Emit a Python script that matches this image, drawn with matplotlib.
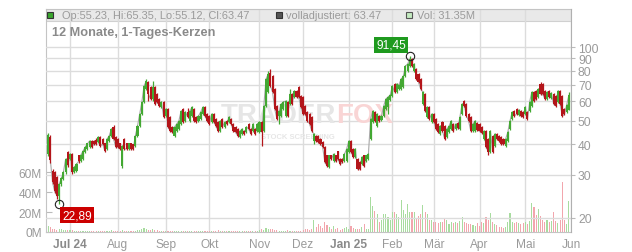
import matplotlib
matplotlib.use("Agg")
import matplotlib.pyplot as plt
from matplotlib.patches import Rectangle
from matplotlib.ticker import FixedLocator, FixedFormatter, NullLocator

plt.rcParams['font.family'] = ['Liberation Sans', 'DejaVu Sans']

# ---------------- data (daily candles, Jun 2024 - May 2025) ----------------
opens = [
    36.5, 42.9, 31.1, 30.8, 29.4, 24.6, 27.5, 29.0, 30.8, 36.9,
    34.8, 36.5, 30.8, 31.1, 35.9, 34.1, 34.8, 37.3, 38.3, 39.0, 41.3, 41.3, 41.7, 40.9, 42.9, 42.1, 40.2, 38.3, 41.3, 43.3, 47.1, 42.9,
    42.1, 40.2, 32.6, 42.1, 40.2, 38.3, 40.2, 39.8, 39.4, 43.3, 47.5, 53.2, 59.6, 67.3, 71.9, 68.6, 61.3, 68.6, 64.2, 61.3, 56.8, 59.6,
    52.2, 55.8, 51.8, 47.1, 43.3, 45.3, 46.2, 48.5, 55.8, 49.9, 54.2, 49.9, 52.2, 55.8, 51.8, 49.9, 50.8, 53.2, 56.8, 53.2,
    52.2, 49.4, 53.2, 50.8, 49.4, 45.3, 50.8, 47.1, 49.9, 49.4, 50.8, 48.5, 47.1, 46.2, 42.9, 44.1, 45.3, 44.9, 48.5, 46.2, 45.3, 46.2, 45.3,
    44.9, 49.4, 45.3, 57.4, 65.4, 78.5, 75.8, 67.3, 57.4, 52.2, 52.2, 55.8, 52.2, 59.6, 58.5, 64.2, 62.4, 66.1, 68.6, 63.0,
    62.4, 57.4, 54.2, 53.2, 51.8, 41.3, 43.3, 43.3, 42.1, 40.9, 39.0, 35.9, 32.3, 35.9, 34.1, 35.9, 37.3, 34.8, 34.8, 34.1, 34.1,
    37.3, 41.3, 38.3, 35.5, 34.8, 33.8, 33.2, 35.9, 34.1, 34.8, 42.1, 49.4, 54.2, 47.5, 52.2, 50.3, 52.2, 55.8, 56.8, 60.7,
    63.0, 70.6, 65.4, 67.3, 67.3, 68.6, 76.1, 79.8, 83.6, 89.3, 79.8, 81.3, 77.6, 74.0, 58.5, 64.2, 51.8, 56.8, 49.4,
    53.2, 50.8, 48.5, 44.1, 49.4, 47.5, 42.9, 44.9, 46.2, 48.5, 46.2, 48.9, 46.2, 53.2, 60.1, 58.5, 53.2, 51.8, 45.3, 45.3, 48.9,
    48.5, 47.1, 42.1, 45.3, 42.1, 37.3, 43.3, 39.4, 44.1, 43.3, 42.9, 42.1, 39.4, 41.3, 46.2, 50.8, 54.7, 55.8, 52.7, 54.7, 54.2,
    53.2, 54.2, 54.7, 57.4, 65.4, 66.1, 62.4, 70.6, 70.6, 66.1, 61.3, 66.1, 62.0, 64.2, 63.0, 59.6, 66.1, 63.0, 55.8, 54.2, 55.23,
]
highs = [
    44.5, 43.7, 31.6, 31.2, 29.8, 27.9, 29.5, 31.2, 35.2, 37.4,
    36.9, 37.0, 32.7, 33.6, 36.3, 36.6, 38.0, 39.4, 40.6, 41.7, 41.7, 41.7, 42.6, 43.3, 43.3, 42.5, 40.6, 42.5, 43.7, 46.7, 47.8, 43.3,
    42.5, 40.6, 39.8, 42.5, 40.6, 40.6, 40.6, 40.2, 43.7, 48.0, 53.8, 60.2, 70.0, 74.0, 72.6, 69.3, 72.6, 69.3, 65.0, 62.0, 60.2, 60.1,
    56.4, 56.4, 52.3, 47.6, 47.6, 49.0, 50.4, 55.3, 56.4, 54.8, 56.5, 55.3, 57.4, 56.4, 52.3, 52.7, 54.8, 57.4, 57.4, 53.7,
    52.7, 53.7, 53.7, 51.3, 49.9, 50.4, 51.3, 49.9, 50.4, 52.3, 51.3, 49.0, 47.6, 46.7, 45.8, 46.7, 45.8, 47.6, 49.0, 46.7, 49.0, 46.7, 49.0,
    49.9, 49.9, 58.0, 74.8, 79.8, 81.3, 76.5, 68.0, 58.0, 55.3, 59.1, 60.2, 60.7, 60.2, 67.3, 64.8, 66.8, 66.8, 69.3, 63.6,
    63.0, 58.0, 54.8, 53.7, 52.3, 44.5, 43.7, 43.7, 42.5, 41.3, 39.4, 36.3, 36.3, 36.3, 36.9, 36.3, 37.7, 35.2, 35.2, 36.9, 38.7,
    41.7, 41.7, 38.7, 38.7, 35.2, 34.2, 35.9, 36.3, 36.3, 36.9, 51.3, 55.3, 54.8, 53.7, 52.7, 52.7, 58.0, 62.0, 63.0, 64.2,
    69.9, 71.3, 71.3, 70.6, 74.8, 76.5, 84.4, 86.0, 91.45, 90.2, 86.0, 82.1, 78.3, 74.8, 66.0, 64.8, 57.4, 57.4, 53.7,
    53.7, 51.3, 49.0, 48.0, 49.9, 48.0, 46.7, 48.0, 50.4, 49.0, 49.0, 49.4, 52.3, 59.1, 60.7, 59.1, 53.7, 52.3, 49.0, 50.4, 49.4,
    49.0, 47.6, 45.8, 45.8, 42.5, 45.8, 43.7, 44.5, 44.5, 43.7, 43.3, 42.5, 42.5, 45.3, 50.4, 54.8, 55.3, 56.4, 55.8, 55.3, 54.8,
    57.4, 54.8, 60.2, 66.0, 66.0, 66.8, 68.0, 72.0, 71.3, 66.8, 66.0, 66.8, 65.4, 64.8, 63.6, 66.8, 66.8, 63.6, 56.4, 58.5, 65.35,
]
lows = [
    36.0, 33.5, 27.6, 25.3, 23.9, 22.89, 27.1, 28.6, 30.4, 32.4,
    34.4, 30.4, 30.5, 30.8, 33.7, 33.8, 34.5, 37.0, 38.0, 38.7, 38.7, 39.8, 39.8, 40.5, 39.0, 39.8, 37.2, 38.0, 41.0, 43.0, 41.7, 38.6,
    38.6, 37.9, 32.0, 37.9, 37.9, 37.9, 37.9, 37.9, 39.0, 43.0, 47.0, 52.7, 59.0, 66.5, 60.1, 60.8, 60.1, 58.0, 59.0, 57.0, 56.3, 51.3,
    51.7, 46.6, 44.9, 44.5, 42.9, 44.9, 45.8, 48.0, 48.9, 49.4, 51.3, 49.4, 51.7, 49.4, 48.9, 49.4, 50.3, 52.7, 51.7, 49.4,
    48.0, 48.9, 48.9, 47.0, 44.9, 44.9, 46.6, 46.6, 48.0, 48.9, 48.0, 44.9, 44.5, 42.9, 42.5, 43.7, 43.7, 44.5, 45.9, 43.7, 44.9, 43.7, 44.9,
    44.5, 39.4, 44.9, 57.0, 64.8, 68.6, 64.8, 55.3, 50.3, 48.5, 51.7, 55.3, 51.7, 51.7, 58.0, 58.0, 61.8, 61.8, 61.8, 56.3,
    52.7, 52.7, 49.4, 48.0, 44.9, 40.2, 40.9, 40.5, 39.8, 38.6, 33.5, 32.3, 32.0, 34.4, 33.8, 33.8, 34.4, 32.9, 33.5, 33.8, 33.8,
    36.9, 36.9, 35.1, 35.1, 31.4, 31.4, 32.9, 32.3, 33.8, 34.4, 41.7, 48.9, 49.4, 47.0, 49.4, 49.9, 51.7, 55.3, 53.2, 60.2,
    62.4, 64.8, 64.8, 66.7, 66.7, 68.0, 75.4, 79.0, 82.8, 82.8, 79.0, 73.3, 71.2, 66.7, 57.9, 54.2, 51.3, 50.3, 48.9,
    48.9, 45.8, 44.5, 43.7, 44.9, 41.7, 42.5, 44.5, 45.8, 44.9, 45.8, 46.2, 45.8, 52.7, 56.8, 51.7, 49.4, 44.9, 44.9, 44.9, 45.3,
    44.9, 44.1, 41.7, 38.6, 36.2, 36.9, 36.9, 39.0, 41.7, 40.9, 39.8, 39.8, 39.0, 40.9, 45.8, 50.3, 51.7, 52.7, 52.2, 51.7, 51.3,
    52.7, 50.3, 54.2, 56.8, 59.6, 60.8, 61.8, 63.6, 63.6, 60.8, 60.8, 61.8, 61.5, 58.0, 56.8, 59.0, 58.0, 51.7, 52.7, 53.7, 55.12,
]
closes = [
    43.7, 34.5, 28.0, 25.7, 24.6, 27.5, 29.0, 30.8, 34.8, 32.9,
    36.5, 30.8, 32.3, 33.2, 34.1, 36.2, 37.6, 39.0, 40.2, 41.3, 39.0, 40.2, 40.2, 42.9, 39.4, 40.2, 37.6, 42.1, 43.3, 46.2, 42.1, 39.0,
    39.0, 38.3, 39.4, 38.3, 38.3, 40.2, 38.3, 38.3, 43.3, 47.5, 53.2, 59.6, 69.3, 72.6, 64.2, 61.3, 68.6, 58.5, 59.6, 57.4, 59.6, 51.8,
    55.8, 47.1, 45.3, 44.9, 47.1, 48.5, 49.9, 54.7, 49.4, 54.2, 51.8, 54.7, 56.8, 49.9, 49.4, 52.2, 54.2, 56.8, 52.2, 49.9,
    48.5, 53.2, 49.4, 47.5, 45.3, 49.9, 47.1, 49.4, 48.5, 51.8, 48.5, 45.3, 44.9, 43.3, 45.3, 46.2, 44.1, 47.1, 46.3, 44.1, 48.5, 44.1, 48.5,
    49.4, 44.9, 57.4, 74.0, 77.6, 69.3, 65.4, 55.8, 50.8, 54.7, 58.5, 59.6, 60.1, 52.2, 64.2, 58.5, 66.1, 62.4, 62.4, 56.8,
    53.2, 53.2, 49.9, 48.5, 45.3, 44.1, 41.3, 40.9, 40.2, 39.0, 33.8, 32.6, 35.9, 34.8, 36.5, 34.1, 34.8, 33.2, 33.8, 36.5, 38.3,
    41.3, 37.3, 35.5, 38.3, 31.7, 31.7, 35.5, 32.6, 35.9, 36.5, 50.8, 54.7, 49.9, 53.2, 49.9, 52.2, 57.4, 61.3, 62.4, 63.6,
    69.3, 65.4, 70.6, 69.9, 74.0, 75.8, 83.6, 85.2, 89.3, 83.6, 85.2, 74.0, 71.9, 67.3, 65.4, 54.7, 56.8, 50.8, 53.2,
    49.4, 46.2, 44.9, 47.5, 45.3, 42.1, 46.2, 47.5, 49.9, 45.3, 48.5, 46.6, 51.8, 58.5, 57.4, 52.2, 49.9, 45.3, 48.5, 49.9, 45.7,
    45.3, 44.5, 45.3, 39.0, 37.3, 45.3, 37.3, 44.1, 42.1, 41.3, 40.2, 40.2, 42.1, 44.9, 49.9, 54.2, 52.2, 53.2, 55.3, 52.2, 51.8,
    56.8, 50.8, 59.6, 65.4, 60.1, 61.3, 67.3, 64.2, 64.2, 61.3, 65.4, 62.4, 64.8, 58.5, 57.4, 66.1, 58.5, 52.2, 53.2, 57.9, 63.47,
]
volumes_m = [
    6, 5, 3.5, 3, 2.5, 3, 3, 2, 2, 2,
    2, 2, 1.5, 1.5, 1, 1, 1.5, 1.5, 1, 1, 1, 1, 1.5, 1, 1, 1, 1.5, 1, 1, 2, 1.5, 1,
    1, 1, 2, 1, 1, 1, 1, 1, 1.5, 2, 2.5, 3, 4, 3, 2.5, 2, 3, 2, 2, 1.5, 1.5, 1,
    1.5, 1.5, 1, 1, 1, 1, 1.5, 1, 1, 1, 1, 1, 1.5, 1, 1, 1, 1, 1, 1, 1,
    1, 1, 1, 1.5, 2, 1, 1, 1, 1, 1, 1, 1, 1, 1.5, 1, 1, 1, 1, 1, 1, 1, 1.5, 1,
    2, 3, 2.5, 4, 3.5, 3, 3, 2.5, 2, 1.5, 1.5, 1.5, 1.5, 2, 1.5, 1.5, 1.5, 1.5, 1, 1.5,
    2, 3, 3, 2.5, 3, 12, 5, 8, 6, 4, 10, 7, 5, 3, 6, 3, 4, 2.5, 3, 4, 5,
    3, 6, 4, 3, 3, 3, 5, 8, 3, 3, 35, 26, 21, 18, 10, 12, 18, 18, 15, 12,
    20, 20, 18, 15, 32, 22, 18, 28, 20, 20, 20, 14, 16, 18, 27, 20, 18, 12, 12,
    10, 10, 9, 10, 10, 13, 12, 8, 10, 9, 10, 9, 11, 15, 10, 9, 8, 8, 7, 6, 9,
    6, 10, 9, 15, 12, 19, 10, 8, 7, 5, 5, 4, 5, 10, 19, 10, 9, 10, 9, 8, 9,
    10, 8, 11, 29, 25, 17, 23, 16, 12, 10, 12, 10, 11, 20, 11, 9, 12, 50, 12, 8, 31.35,
]
month_labels = ["Jul 24", "Aug", "Sep", "Okt", "Nov", "Dez", "Jan 25", "Feb", "Mär", "Apr", "Mai", "Jun"]
month_starts = [10, 32, 54, 74, 97, 117, 138, 158, 177, 198, 219, 240]
price_ticks = [20, 30, 40, 50, 60, 70, 80, 90, 100]
vol_ticks = [0, 20, 40, 60]
hi_label, lo_label = "91,45", "22,89"
header_ohlc = "Op:55.23, Hi:65.35, Lo:55.12, Cl:63.47"
header_adj = "volladjustiert: 63.47"
header_vol = "Vol: 31.35M"
title = "12 Monate, 1-Tages-Kerzen"

# ---------------- layout ----------------
W, H = 632, 253
L, R, T, B = 46, 571, 10, 233
fig = plt.figure(figsize=(W / 100, H / 100), dpi=100)
fig.patch.set_facecolor("white")

def fx(x):
    return x / W

def fy(y):
    return 1 - y / H

axv = fig.add_axes([fx(L), fy(B), (R - L) / W, (B - T) / H])
axp = axv.twinx()

n = min(len(opens), len(highs), len(lows), len(closes), len(volumes_m))
idx = list(range(n))
GREEN, RED = "#43a832", "#b3151a"
VGREEN, VPINK = "#a8dc9f", "#f2a6ad"
GRID = "#dcdcdc"
TXT = "#9a9a9a"

# header bar
axv.add_patch(Rectangle((0, 1 - 12 / (B - T)), 1, 12 / (B - T), transform=axv.transAxes,
                        facecolor="#e9e9e9", edgecolor="#d0d0d0", lw=0.8, zorder=0.3))

# volume
axv.set_ylim(0, B - T)
axv.set_xlim(-1.0, 240.0)
up = [closes[i] >= opens[i] for i in idx]
axv.bar(idx, volumes_m[:n], width=0.5, color=[VGREEN if u else VPINK for u in up],
        linewidth=0, zorder=1)
axv.set_xticks(month_starts)
axv.set_xticklabels(month_labels)
axv.xaxis.grid(True, color=GRID, lw=1.0)
axv.set_axisbelow(True)
axv.tick_params(axis="x", length=0, pad=4, labelsize=8.6, labelcolor=TXT)
for lab in axv.get_xticklabels():
    if lab.get_text() in ("Jul 24", "Jan 25"):
        lab.set_fontweight("bold")
        lab.set_color("#8a8a8a")
axv.set_yticks(vol_ticks)
axv.set_yticklabels([f"{v}M" for v in vol_ticks])
axv.tick_params(axis="y", direction="in", length=4, color="#bbbbbb", pad=3,
                labelsize=8.6, labelcolor=TXT)
for s in ("left", "bottom", "top"):
    axv.spines[s].set_color("#c4c4c4")
axv.spines["right"].set_visible(False)

# price
axp.set_yscale("log")
axp.set_ylim(17.53, 143.0)
axp.yaxis.set_major_locator(FixedLocator(price_ticks))
axp.yaxis.set_major_formatter(FixedFormatter([str(t) for t in price_ticks]))
axp.yaxis.set_minor_locator(NullLocator())
axp.yaxis.grid(True, color=GRID, lw=1.0)
axp.set_axisbelow(True)
axp.tick_params(axis="y", length=3, color="#bbbbbb", pad=2, labelsize=8.7, labelcolor=TXT)
axp.spines["right"].set_color("#b0b0b0")
for s in ("left", "bottom", "top"):
    axp.spines[s].set_visible(False)

# watermark
axp.text(0.553, 0.525, "TRADER", transform=axp.transAxes, ha="right", va="center",
         fontsize=20, fontweight="bold", color="#e6e6e6", zorder=1)
axp.text(0.553, 0.525, "FOX", transform=axp.transAxes, ha="left", va="center",
         fontsize=20, fontweight="bold", color="#f9d5d5", zorder=1)
axp.text(0.48, 0.43, "STOCK SCREENING", transform=axp.transAxes, ha="center", va="center",
         fontsize=5.5, fontweight="bold", color="#e6e6e6", zorder=1)

# adjusted close line
axp.plot(idx, closes[:n], color="#a8a8a8", lw=0.8, zorder=2)

# candles
cols = [GREEN if u else RED for u in up]
axp.vlines(idx, lows[:n], highs[:n], colors=cols, lw=0.9, zorder=3)
bottoms = [min(opens[i], closes[i]) for i in idx]
heights = [abs(closes[i] - opens[i]) + 0.15 for i in idx]
axp.bar(idx, heights, bottom=bottoms, width=0.95, color=cols, linewidth=0, zorder=4)

# extreme markers
ih = max(idx, key=lambda i: highs[i])
il = min(idx, key=lambda i: lows[i])
axp.plot([ih], [highs[ih]], marker="o", ms=6, mfc="none", mec="#222222", mew=0.8, zorder=6)
axp.plot([il], [lows[il]], marker="o", ms=6, mfc="none", mec="#222222", mew=0.8, zorder=6)
axp.annotate(hi_label, xy=(ih, highs[ih]), xytext=(-13.5, 8.3), textcoords="offset points",
             ha="center", va="center", fontsize=8.6, color="white", zorder=7,
             bbox=dict(boxstyle="square,pad=0.18", fc="#1f9a1f", ec="none"))
axp.annotate(lo_label, xy=(il, lows[il]), xytext=(13.0, -8.3), textcoords="offset points",
             ha="center", va="center", fontsize=8.6, color="white", zorder=7,
             bbox=dict(boxstyle="square,pad=0.18", fc="#cc0000", ec="none"))

# header legend
def square(x, color, edge):
    fig.add_artist(Rectangle((fx(x), fy(19)), 6 / W, 6 / H, transform=fig.transFigure,
                             facecolor=color, edgecolor=edge, lw=0.8, zorder=10))

square(47, "#3aa62e", "#333333")
fig.text(fx(62), fy(16), header_ohlc, fontsize=7.9, color=TXT, va="center", ha="left")
square(276, "#555555", "#333333")
fig.text(fx(286), fy(16), header_adj, fontsize=7.9, color=TXT, va="center", ha="left")
square(406, "#c4ebc0", "#555555")
fig.text(fx(417), fy(16), header_vol, fontsize=7.9, color=TXT, va="center", ha="left")

fig.text(fx(52), fy(33), title, fontsize=9.2, fontweight="bold", color="#8a8a8a",
         va="center", ha="left")

fig.savefig("out.png", dpi=100, facecolor="white")
